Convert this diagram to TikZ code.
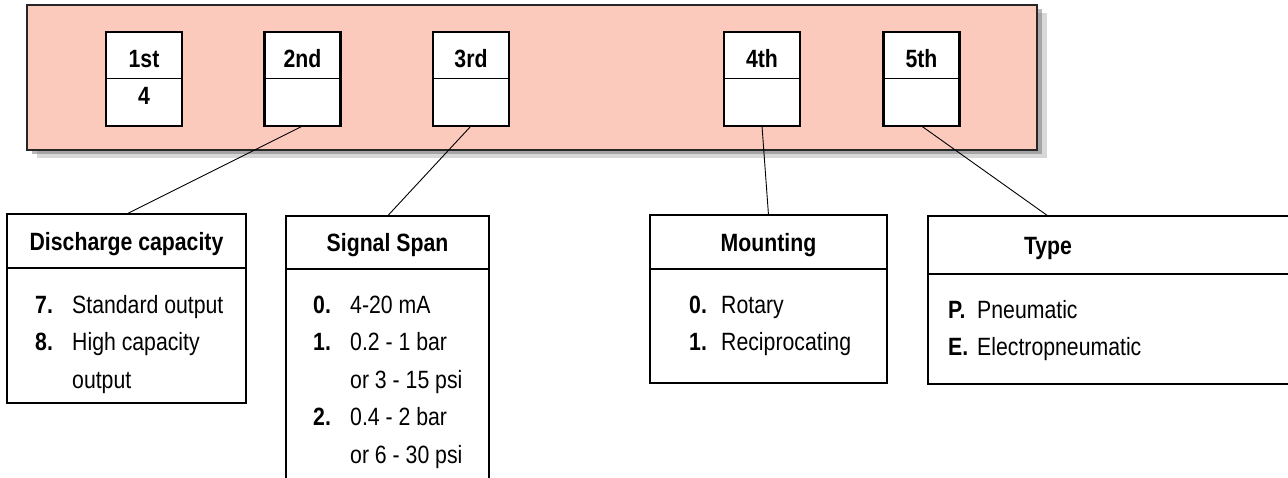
\documentclass[tikz,border=0pt]{standalone}
\usepackage{fontspec}
\setmainfont{Liberation Sans}[FakeStretch=0.85]
\usetikzlibrary{positioning,shadows}

\definecolor{panelpink}{RGB}{252,202,189}
\newcommand\diagfont{\fontsize{25pt}{37.5pt}\selectfont}

\tikzset{
  slottop/.style={rectangle,draw,fill=white,line width=1pt,minimum width=76pt,minimum height=46pt,
    inner sep=0pt,outer sep=0pt,font=\diagfont\bfseries,text height=24pt,text depth=0pt},
  slotbot/.style={slottop,minimum height=48pt,text height=17pt,text depth=13pt},
  cathead/.style={rectangle,draw,line width=1.3pt,inner sep=0pt,outer sep=0pt,
    font=\diagfont\bfseries,text height=18pt,text depth=0pt},
  catbody/.style={rectangle,draw,line width=1.3pt,inner sep=0pt,outer sep=0pt},
  itemlist/.style={inner sep=0pt,anchor=base west,font=\diagfont},
  link/.style={line width=0.9pt}
}

\begin{document}
\begin{tikzpicture}[x=1pt,y=-1pt]
  \useasboundingbox (0,0) rectangle (1288,477);
  \clip (0,0) rectangle (1288,477);
  % code panel
  \node[rectangle,draw=black!85,line width=2.5pt,fill=panelpink,minimum width=1010pt,minimum height=145pt,
        drop shadow={shadow xshift=10pt,shadow yshift=-8pt,fill=black!30},
        drop shadow={shadow xshift=5pt,shadow yshift=-4pt,fill=black!55}] (panel) at (532,77.5) {};
  \foreach \n/\x/\pos/\val in {1/144/1st/4,2/302.5/2nd/,3/471/3rd/,4/762/4th/,5/921.5/5th/} {
    \node[slottop] (top\n) at (\x,55) {\pos};
    \node[slotbot,below=0pt of top\n] (bot\n) {\val};
    \draw[line width=2.5pt] (top\n.north west) rectangle (bot\n.south east);
  }
  % discharge capacity
  \node[cathead,minimum width=239pt,minimum height=54pt] (dischead) at (126.5,241) {Discharge capacity};
  \node[catbody,minimum width=239pt,minimum height=135pt,below=0pt of dischead] (discbody) {};
  \node[itemlist] (disclist) at (35,313) {\begin{tabular}[t]{@{}p{37pt}@{}l@{}}
    \textbf{7.} & Standard output\\
    \textbf{8.} & High capacity\\
                & output
  \end{tabular}};
  % signal span
  \node[cathead,minimum width=203pt,minimum height=53pt] (sighead) at (387.5,242.5) {Signal Span};
  \node[catbody,minimum width=203pt,minimum height=240pt,below=0pt of sighead] (sigbody) {};
  \node[itemlist] (siglist) at (313,313) {\begin{tabular}[t]{@{}p{37pt}@{}l@{}}
    \textbf{0.} & 4-20 mA\\
    \textbf{1.} & 0.2 - 1 bar\\
                & or 3 - 15 psi\\
    \textbf{2.} & 0.4 - 2 bar\\
                & or 6 - 30 psi
  \end{tabular}};
  % mounting
  \node[cathead,minimum width=237pt,minimum height=54pt] (mounthead) at (768.5,242) {Mounting};
  \node[catbody,minimum width=237pt,minimum height=114pt,below=0pt of mounthead] (mountbody) {};
  \node[itemlist] (mountlist) at (689,313) {\begin{tabular}[t]{@{}p{32pt}@{}l@{}}
    \textbf{0.} & Rotary\\
    \textbf{1.} & Reciprocating
  \end{tabular}};
  % type
  \node[cathead,minimum width=392pt,minimum height=58pt] (typehead) at (1124,245) {};
  \node[cathead,draw=none] (typetitle) at (1048,245) {Type};
  \node[catbody,minimum width=392pt,minimum height=110pt,below=0pt of typehead] (typebody) {};
  \node[itemlist] (typelist) at (948,318) {\begin{tabular}[t]{@{}p{29pt}@{}l@{}}
    \textbf{P.} & Pneumatic\\
    \textbf{E.} & Electropneumatic
  \end{tabular}};
  % links from slots to categories
  \draw[link] (bot2.south) -- (dischead.north);
  \draw[link] (bot3.south) -- (sighead.north);
  \draw[link] (bot4.south) -- (mounthead.north);
  \draw[link] (bot5.south) -- (typehead.north -| typetitle);
\end{tikzpicture}
\end{document}
